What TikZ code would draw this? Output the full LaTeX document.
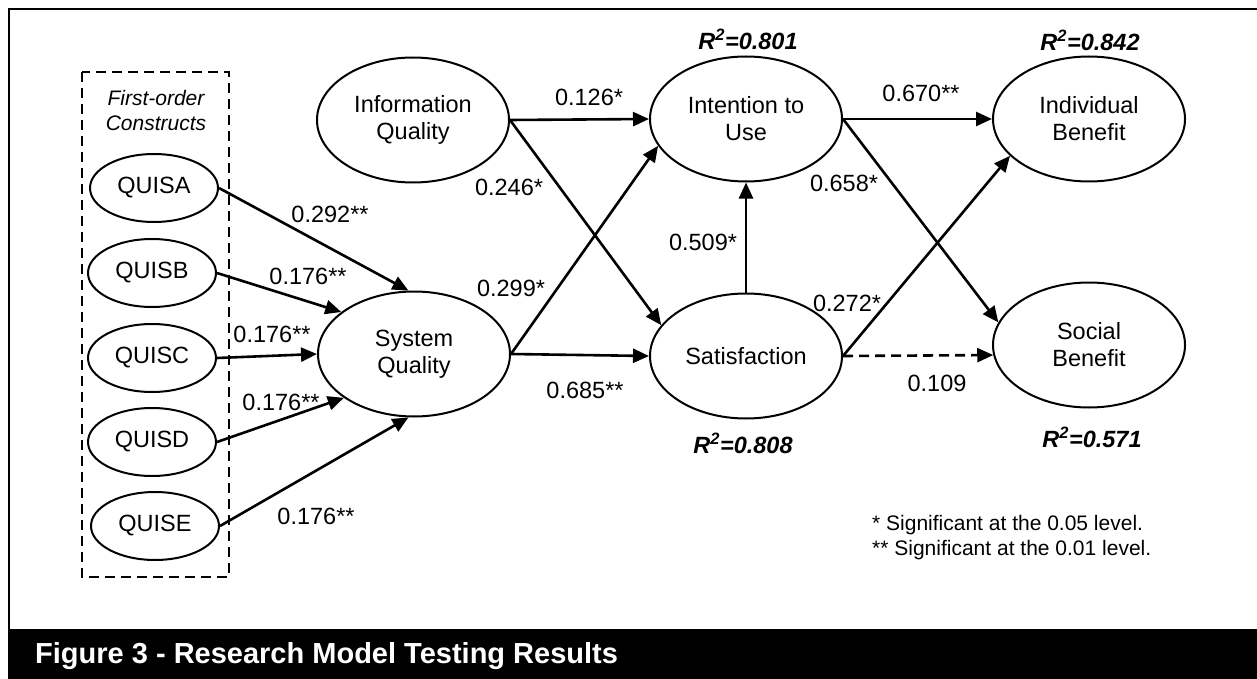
\documentclass[tikz,border=0pt]{standalone}
\usepackage{fontspec}
\setmainfont{Liberation Sans}
\usetikzlibrary{shapes.geometric,arrows.meta}
\newcommand{\lblfont}{\fontsize{23.5}{27}\selectfont}
\newcommand{\smallfont}{\fontsize{21}{25}\selectfont}
\tikzset{
  lat/.style={ellipse, draw, line width=2pt, minimum width=192pt, minimum height=125pt, inner sep=0pt, align=center, font=\lblfont},
  quis/.style={ellipse, draw, line width=2pt, minimum width=128pt, minimum height=68pt, inner sep=0pt, font=\lblfont},
  arr/.style={line width=2.6pt, -{Triangle[length=16pt,width=14pt]}},
  dasharr/.style={arr, dash pattern=on 10pt off 6pt},
  coef/.style={font=\lblfont, inner sep=0pt},
  rsq/.style={font=\lblfont\bfseries\itshape, inner sep=0pt},
}
\begin{document}
\begin{tikzpicture}[x=1pt,y=-1pt]
\useasboundingbox (0,0) rectangle (1257,679);
% frame
\draw[line width=2.8pt] (1257,9) -- (9,9) -- (9,629);
\fill[black] (8,629) rectangle (1257,679);
\node[anchor=base west, text=white, font=\fontsize{29}{31}\selectfont\bfseries, inner sep=0pt] (cap) at (35,663) {Figure 3 - Research Model Testing Results};
% first-order box
\draw[line width=2.2pt, dash pattern=on 10pt off 6pt] (82,72) rectangle (229,577);
\node[font=\smallfont\itshape, align=center, inner sep=0pt] (fo) at (156,110) {First-order\\Constructs};
% nodes
\node[quis] (QA) at (154,188) {QUISA};
\node[quis] (QB) at (152,273) {QUISB};
\node[quis] (QC) at (152,358) {QUISC};
\node[quis] (QD) at (152,442) {QUISD};
\node[quis] (QE) at (155,526) {QUISE};
\node[lat] (IQ) at (413,120) {Information\\Quality};
\node[lat] (SYS) at (414,354) {System\\Quality};
\node[lat] (ITU) at (746,119) {Intention to\\Use};
\node[lat] (SAT) at (746,356) {Satisfaction};
\node[lat] (IB) at (1089,119) {Individual\\Benefit};
\node[lat] (SB) at (1089,345) {Social\\Benefit};
% arrows
\draw[arr] (QA.east) -- (SYS.95);
\draw[arr] (QB.east) -- (SYS.150);
\draw[arr] (QC.east) -- (SYS.west);
\draw[arr] (QD.east) -- (SYS.212);
\draw[arr] (QE.east) -- (SYS.265);
\draw[arr] (IQ.east) -- (ITU.west);
\draw[arr] (IQ.east) -- (SAT.160);
\draw[arr] (SYS.east) -- (ITU.197);
\draw[arr] (SYS.east) -- (SAT.west);
\draw[arr] (SAT.north) -- (ITU.south);
\draw[arr] (ITU.east) -- (IB.west);
\draw[arr] (ITU.east) -- (SB.166);
\draw[arr] (SAT.east) -- (IB.205);
\draw[dasharr] (SAT.east) -- (SB.186);
% coefficients
\node[coef] (cA) at (330,214) {0.292**};
\node[coef] (cB) at (308,276) {0.176**};
\node[coef] (cC) at (272,334) {0.176**};
\node[coef] (cD) at (281,402) {0.176**};
\node[coef] (cE) at (316,516) {0.176**};
\node[coef] (c1) at (589,97) {0.126*};
\node[coef] (c2) at (509,187) {0.246*};
\node[coef] (c3) at (511,288) {0.299*};
\node[coef] (c4) at (703,242) {0.509*};
\node[coef] (c5) at (585,390) {0.685**};
\node[coef] (c6) at (921,93) {0.670**};
\node[coef] (c7) at (844,183) {0.658*};
\node[coef] (c8) at (847,303) {0.272*};
\node[coef] (c9) at (937,383) {0.109};
% R squared
\node[rsq] (r1) at (748,39) {R\textsuperscript{2}=0.801};
\node[rsq] (r2) at (1090,40) {R\textsuperscript{2}=0.842};
\node[rsq] (r3) at (743,443) {R\textsuperscript{2}=0.808};
\node[rsq] (r4) at (1092,437) {R\textsuperscript{2}=0.571};
% legend
\node[font=\smallfont, align=left, anchor=west, inner sep=0pt] (leg) at (872,538) {* Significant at the 0.05 level.\\** Significant at the 0.01 level.};
\end{tikzpicture}
\end{document}
